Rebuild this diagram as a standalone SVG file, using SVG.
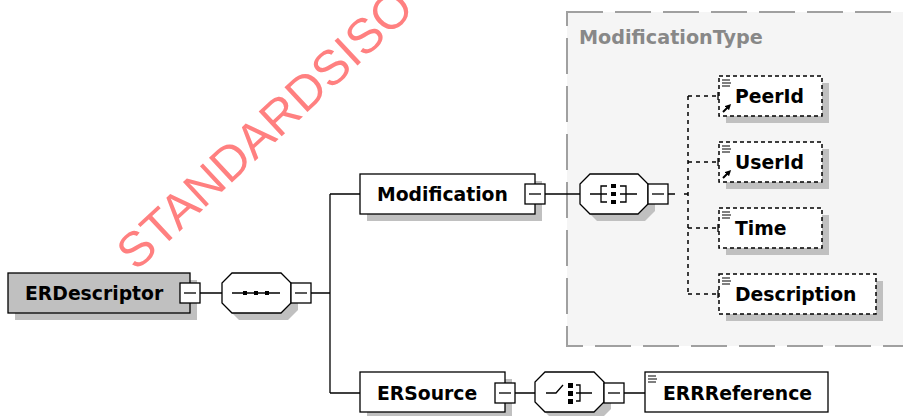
<svg xmlns="http://www.w3.org/2000/svg" width="903" height="416" viewBox="0 0 903 416">
<style>
.lbl{font-family:"DejaVu Sans",Verdana,sans-serif;font-weight:bold;font-size:18.8px;fill:#000}
.box{fill:#fff;stroke:#000;stroke-width:1.3}
.opt{fill:#fff;stroke:#000;stroke-width:1.5;stroke-dasharray:4 3}
.sh{fill:#c0c0c0}
.ln{stroke:#000;stroke-width:1.3;fill:none}
.dl{stroke:#000;stroke-width:1.5;fill:none;stroke-dasharray:4 4}
.mb{fill:#fff;stroke:#000;stroke-width:1.3}
.ic{stroke:#000;stroke-width:1.2;fill:none}
</style>
<defs>
<marker id="ah" markerWidth="6" markerHeight="6" refX="3" refY="3" orient="auto" markerUnits="userSpaceOnUse"><path d="M0,0 L6,3 L0,6 Z" fill="#000"/></marker>
</defs>
<rect width="903" height="416" fill="#fff"/>

<g id="ModificationType">
<rect x="567" y="12" width="345" height="334" fill="#f5f5f5" stroke="#a0a0a0" stroke-width="2" stroke-dasharray="36 12"/>
<text x="579" y="44" font-family="DejaVu Sans,Verdana,sans-serif" font-weight="bold" font-size="19.2" fill="#888">ModificationType</text>
</g>

<g id="connectors">
<path class="ln" d="M200,293 H222 M311,293 H330 M330,194 V393 M330,194 H360 M330,393 H360 M545,194 H580 M668,194 H675 M515,393 H535 M624,393 H645"/>
<path class="dl" d="M688,194 H680 M688,96 V294 M688,96 H718 M688,162 H718 M688,228 H718 M688,294 H718"/>
<path class="ln" d="M718,92 V100 M718,158 V166 M718,224 V232 M718,290 V298"/>
</g>

<g id="ERDescriptor">
<rect class="sh" x="15" y="280" width="182" height="40"/>
<rect x="8" y="273" width="182" height="40" fill="#c0c0c0" stroke="#000" stroke-width="1.3"/>
<text class="lbl" x="25" y="300">ERDescriptor</text>
<rect class="mb" x="180" y="283" width="20" height="20"/>
<path class="ln" d="M184,293 H196"/>
</g>

<g id="sequence">
<path class="sh" d="M239,280 H288 L298,290 V310 L288,320 H239 L229,310 V290 Z"/>
<path class="box" d="M232,273 H281 L291,283 V303 L281,313 H232 L222,303 V283 Z"/>
<path class="ln" d="M232,293 H280"/>
<rect x="243" y="291" width="4" height="4"/><rect x="254" y="291" width="4" height="4"/><rect x="265" y="291" width="4" height="4"/>
<rect class="mb" x="291" y="283" width="20" height="20"/>
<path class="ln" d="M295,293 H307"/>
</g>

<g id="Modification">
<rect class="sh" x="367" y="181" width="175" height="40"/>
<rect class="box" x="360" y="174" width="175" height="40"/>
<text class="lbl" x="377" y="201">Modification</text>
<rect class="mb" x="525" y="184" width="20" height="20"/>
<path class="ln" d="M529,194 H541"/>
</g>

<g id="all">
<path class="sh" d="M597,181 H645 L655,191 V211 L645,221 H597 L587,211 V191 Z"/>
<path class="box" d="M590,174 H638 L648,184 V204 L638,214 H590 L580,204 V184 Z"/>
<path class="ln" d="M590,194 H601 M607,186 H601 V202 H607 M601,194 H607 M620,186 H626 V202 H620 M620,194 H637"/>
<rect x="611" y="184" width="5" height="4"/><rect x="611" y="192" width="5" height="4"/><rect x="611" y="200" width="5" height="4"/>
<rect class="mb" x="648" y="184" width="20" height="20"/>
<path class="ln" d="M652,194 H664"/>
</g>

<g id="PeerId">
<rect class="sh" x="726" y="83" width="103" height="40"/>
<rect class="opt" x="719" y="76" width="103" height="40"/>
<path class="ic" d="M722,80 H730 M722,83 H731 M722,86 H730"/>
<path stroke="#000" stroke-width="2" d="M723,112 L729,106" marker-end="url(#ah)"/>
<text class="lbl" x="735" y="103">PeerId</text>
</g>

<g id="UserId">
<rect class="sh" x="726" y="149" width="103" height="40"/>
<rect class="opt" x="719" y="142" width="103" height="40"/>
<path class="ic" d="M722,146 H730 M722,149 H731 M722,152 H730"/>
<path stroke="#000" stroke-width="2" d="M723,178 L729,172" marker-end="url(#ah)"/>
<text class="lbl" x="735" y="169">UserId</text>
</g>

<g id="Time">
<rect class="sh" x="726" y="215" width="103" height="40"/>
<rect class="opt" x="719" y="208" width="103" height="40"/>
<path class="ic" d="M722,212 H730 M722,215 H731 M722,218 H730"/>
<text class="lbl" x="735" y="235">Time</text>
</g>

<g id="Description">
<rect class="sh" x="726" y="281" width="157" height="40"/>
<rect class="opt" x="719" y="274" width="157" height="40"/>
<path class="ic" d="M722,278 H730 M722,281 H731 M722,284 H730"/>
<text class="lbl" x="735" y="301">Description</text>
</g>

<g id="ERSource">
<rect class="sh" x="367" y="379" width="145" height="40"/>
<rect class="box" x="360" y="372" width="145" height="40"/>
<text class="lbl" x="377" y="400">ERSource</text>
<rect class="mb" x="495" y="383" width="20" height="20"/>
<path class="ln" d="M499,393 H511"/>
</g>

<g id="choice">
<path class="sh" d="M552,379 H601 L611,389 V409 L601,419 H552 L542,409 V389 Z"/>
<path class="box" d="M545,372 H594 L604,382 V402 L594,412 H545 L535,402 V382 Z"/>
<path class="ln" d="M546,393 H556 L563,385 M576,385 H580 V401 H576 M576,393 H592"/>
<rect x="568" y="383" width="5" height="5"/><rect x="568" y="391" width="5" height="5"/><rect x="568" y="399" width="5" height="5"/>
<rect class="mb" x="604" y="383" width="20" height="20"/>
<path class="ln" d="M608,393 H620"/>
</g>

<g id="ERRReference">
<rect class="box" x="645" y="372" width="183" height="40"/>
<path class="ic" d="M648,376 H656 M648,379 H657 M648,382 H656"/>
<text class="lbl" x="663" y="400">ERRReference</text>
</g>

<text x="0" y="0" transform="translate(136,272) rotate(-43)" font-family="Liberation Sans,Arial,sans-serif" font-size="49" fill="#ff8080">STANDARDSISO</text>
</svg>
